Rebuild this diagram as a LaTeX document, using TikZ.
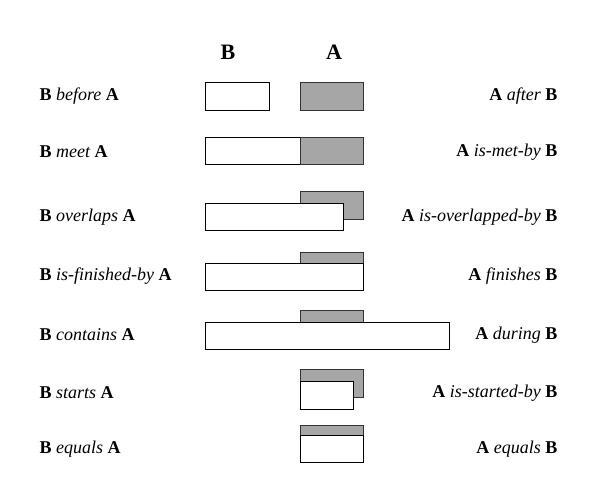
\documentclass[tikz,border=0pt]{standalone}
\usepackage{fontspec}
\setmainfont{Liberation Serif}
\newcommand{\BB}[1]{\textbf{\upshape\fontsize{18}{20}\selectfont #1}}
\begin{document}
\begin{tikzpicture}[x=1pt,y=-1pt,
  bw/.style={draw=black,fill=white,line width=0.9pt},
  ag/.style={draw=black!80,fill=black!35,line width=0.9pt},
  lab/.style={font=\fontsize{18}{20}\selectfont\itshape},
  hd/.style={font=\fontsize{22}{24}\selectfont\bfseries}]
\useasboundingbox (0,0) rectangle (608,493);
\node[hd] (hB) at (228,52) {B};
\node[hd] (hA) at (334,52) {A};
% row1
\draw[bw] (205,82) rectangle (269,110);
\draw[ag] (300,82) rectangle (363,110);
% row2
\draw[bw] (205,137) rectangle (300,164);
\draw[ag] (300,137) rectangle (363,164);
% row3
\draw[ag] (300,191) rectangle (363,219);
\draw[bw] (205,203) rectangle (343,230);
% row4
\draw[ag] (300,252) rectangle (363,263);
\draw[bw] (205,263) rectangle (363,290);
% row5
\draw[ag] (300,310) rectangle (363,322);
\draw[bw] (205,322) rectangle (449,349);
% row6
\draw[ag] (300,369) rectangle (363,397);
\draw[bw] (300,381) rectangle (353,409);
% row7
\draw[ag] (300,425) rectangle (363,435);
\draw[bw] (300,435) rectangle (363,462);
% left labels
\node[lab,anchor=west] (l1) at (36,96) {\BB{B} before\ \BB{A}};
\node[lab,anchor=west] (l2) at (36,152) {\BB{B} meet\ \BB{A}};
\node[lab,anchor=west] (l3) at (36,217) {\BB{B} overlaps\ \BB{A}};
\node[lab,anchor=west] (l4) at (36,276) {\BB{B} is-finished-by\ \BB{A}};
\node[lab,anchor=west] (l5) at (36,335) {\BB{B} contains\ \BB{A}};
\node[lab,anchor=west] (l6) at (36,393) {\BB{B} starts\ \BB{A}};
\node[lab,anchor=west] (l7) at (36,449) {\BB{B} equals\ \BB{A}};
% right labels
\node[lab,anchor=east] (r1) at (561,96) {\BB{A} after \BB{B}};
\node[lab,anchor=east] (r2) at (561,152) {\BB{A} is-met-by \BB{B}};
\node[lab,anchor=east] (r3) at (561,217) {\BB{A} is-overlapped-by \BB{B}};
\node[lab,anchor=east] (r4) at (561,276) {\BB{A} finishes \BB{B}};
\node[lab,anchor=east] (r5) at (561,335) {\BB{A} during \BB{B}};
\node[lab,anchor=east] (r6) at (561,393) {\BB{A} is-started-by \BB{B}};
\node[lab,anchor=east] (r7) at (561,449) {\BB{A} equals \BB{B}};
\end{tikzpicture}
\end{document}
